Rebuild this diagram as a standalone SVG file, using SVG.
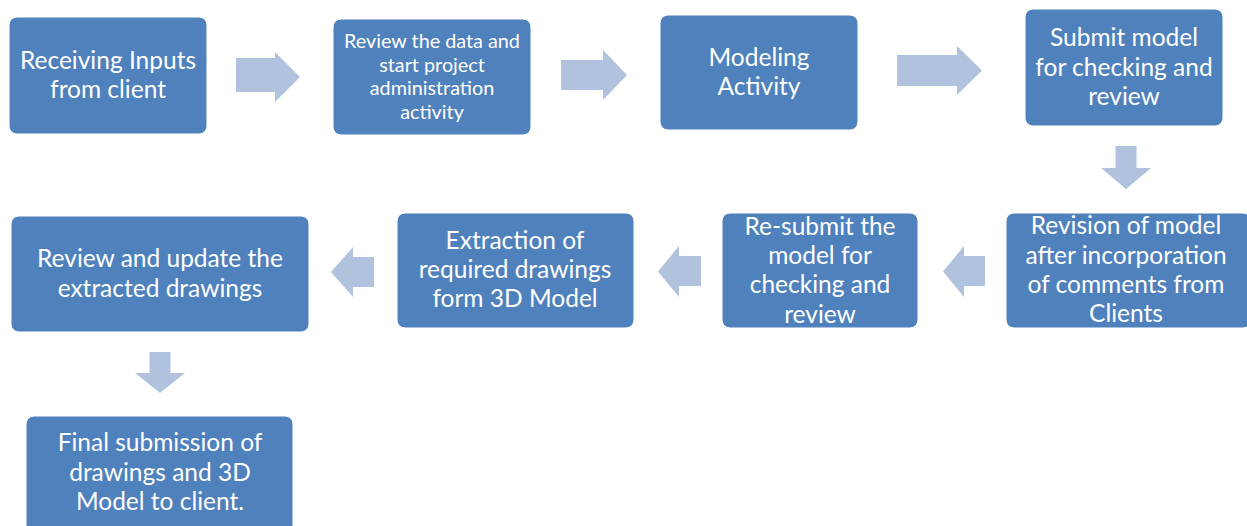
<svg xmlns="http://www.w3.org/2000/svg" width="1247" height="526" viewBox="0 0 1247 526">
<style>
.box{fill:#4F81BD;stroke:#FFFFFF;stroke-width:1}
.arr{fill:#B0C2DE}
text{font-family:Lato,"Liberation Sans",sans-serif;fill:#FFFFFF;text-anchor:middle;font-size:24.5px}
.sm{font-size:19.8px}
</style>
<rect width="1247" height="526" fill="#FFFFFF"/>
<g id="connectors">
<path class="arr" d="M236,58 H275 V52 L300,77 L275,102 V92 H236 Z"/>
<path class="arr" d="M561,60 H603 V50 L627,75 L603,100 V90 H561 Z"/>
<path class="arr" d="M897,55 H957 V46 L982,70.5 L957,95 V86 H897 Z"/>
<path class="arr" d="M1115.5,146 H1136.5 V168 H1151 L1126,189 L1101,168 H1115.5 Z"/>
<path class="arr" d="M985,256 H964 V246 L943,271.5 L964,297 V286 H985 Z"/>
<path class="arr" d="M701,256 H679 V246 L658,271.5 L679,297 V286 H701 Z"/>
<path class="arr" d="M374,257 H353 V247 L331,272 L353,297 V287 H374 Z"/>
<path class="arr" d="M149.5,352 H170.5 V373 H185 L160,393 L135,373 H149.5 Z"/>
</g>
<g id="n1"><rect class="box" x="9" y="17" width="198" height="117" rx="8"/>
<text x="108" y="69">Receiving Inputs</text><text x="108" y="98">from client</text></g>
<g id="n2"><rect class="box" x="333" y="19" width="198" height="116" rx="8"/>
<text class="sm" x="432" y="48">Review the data and</text><text class="sm" x="432" y="72">start project</text><text class="sm" x="432" y="95">administration</text><text class="sm" x="432" y="119">activity</text></g>
<g id="n3"><rect class="box" x="660" y="15" width="198" height="115" rx="8"/>
<text x="759" y="66">Modeling</text><text x="759" y="95">Activity</text></g>
<g id="n4"><rect class="box" x="1025" y="9" width="198" height="117" rx="8"/>
<text x="1124" y="46">Submit model</text><text x="1124" y="76">for checking and</text><text x="1124" y="105">review</text></g>
<g id="n5"><rect class="box" x="1006" y="213" width="245" height="115" rx="8"/>
<text x="1126" y="234">Revision of model</text><text x="1126" y="264">after incorporation</text><text x="1126" y="293">of comments from</text><text x="1126" y="322">Clients</text></g>
<g id="n6"><rect class="box" x="722" y="213" width="196" height="115" rx="8"/>
<text x="820" y="235">Re-submit the</text><text x="820" y="264">model for</text><text x="820" y="293">checking and</text><text x="820" y="323">review</text></g>
<g id="n7"><rect class="box" x="397" y="213" width="237" height="115" rx="8"/>
<text x="515" y="249">Extraction of</text><text x="515" y="278">required drawings</text><text x="515" y="307">form 3D Model</text></g>
<g id="n8"><rect class="box" x="11" y="216" width="298" height="116" rx="8"/>
<text x="160" y="267">Review and update the</text><text x="160" y="297">extracted drawings</text></g>
<g id="n9"><rect class="box" x="26" y="416" width="267" height="125" rx="8"/>
<text x="160" y="451">Final submission of</text><text x="160" y="481">drawings and 3D</text><text x="160" y="510">Model to client.</text></g>
</svg>
